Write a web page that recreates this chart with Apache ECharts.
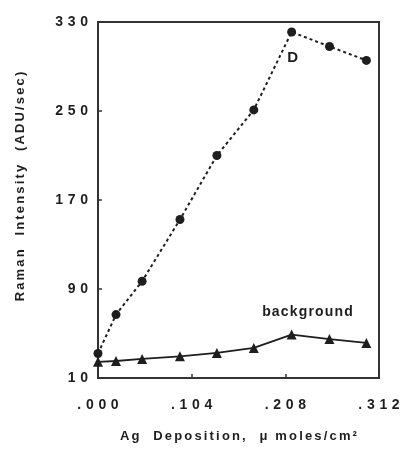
<!DOCTYPE html>
<html>
<head>
<meta charset="utf-8">
<script src="https://cdn.jsdelivr.net/npm/echarts@6/dist/echarts.min.js"></script>
<style>
  html, body { margin: 0; padding: 0; background: #fff; }
  #chart { width: 403px; height: 450px; }
</style>
</head>
<body>
<div id="chart"></div>
<script>
// Ag deposition (µmoles/cm²) and Raman intensity (ADU/sec)
const deposition = [0, 0.020, 0.049, 0.091, 0.132, 0.173, 0.215, 0.257, 0.298];
const intensityD = [32, 67, 97, 152.5, 210, 251, 321, 308, 295.5];
const intensityBackground = [24.5, 25.3, 27.1, 29.5, 32.5, 37, 49, 45, 41.5];
const xTicks = [0, 0.104, 0.208, 0.312];
const yTicks = [10, 90, 170, 250, 330];

const ink = '#1e1e1e';
const font = 'Liberation Sans, Arial, sans-serif';
const spaced = (s, gap) => s.split('').join(gap);

const pairs = (xs, ys) => xs.map((x, i) => [x, ys[i]]);

const dData = pairs(deposition, intensityD).map((p, i) =>
  i === 6 ? { value: p, label: { show: true, formatter: 'D', position: 'inside', offset: [1, 26],
    color: ink, fontFamily: font, fontWeight: 'bold', fontSize: 15 } } : p);
const bgData = pairs(deposition, intensityBackground).map((p, i) =>
  i === 7 ? { value: p, label: { show: true, formatter: spaced('background', '\u200A'), position: 'inside',
    offset: [-22, -27], color: ink, fontFamily: font, fontWeight: 'bold', fontSize: 14 } } : p);

const chart = echarts.init(document.getElementById('chart'), null, { renderer: 'canvas' });
chart.setOption({
  animation: false,
  backgroundColor: '#fff',
  grid: { left: 98, right: 24, top: 22, bottom: 72, show: true, borderColor: '#333', borderWidth: 2 },
  xAxis: {
    type: 'value', min: 0, max: 0.312,
    name: spaced('Ag  Deposition,  \u03BC moles/cm\u00B2', '\u2006'),
    nameLocation: 'middle', nameGap: 52,
    nameTextStyle: { color: ink, fontFamily: font, fontWeight: 'bold', fontSize: 13 },
    axisLine: { show: true, lineStyle: { color: '#333', width: 2 } },
    axisTick: { show: true, inside: true, length: 4, customValues: xTicks, lineStyle: { color: '#333', width: 1.5 } },
    axisLabel: {
      customValues: xTicks, margin: 20, color: ink, fontFamily: font, fontWeight: 'bold', fontSize: 14,
      formatter: v => spaced(v.toFixed(3).replace(/^0/, ''), '\u2004')
    },
    splitLine: { show: false }
  },
  yAxis: {
    type: 'value', min: 10, max: 330,
    name: spaced('Raman  Intensity  (ADU/sec)', '\u2006'),
    nameLocation: 'middle', nameGap: 71, nameRotate: 90,
    nameTextStyle: { color: ink, fontFamily: font, fontWeight: 'bold', fontSize: 13, padding: [0, 0, 0, 27] },
    axisLine: { show: true, lineStyle: { color: '#333', width: 2 } },
    axisTick: { show: true, inside: true, length: 4, customValues: yTicks, lineStyle: { color: '#333', width: 1.5 } },
    axisLabel: {
      customValues: yTicks, margin: 10, color: ink, fontFamily: font, fontWeight: 'bold', fontSize: 14,
      formatter: v => spaced(String(v), '\u2004')
    },
    splitLine: { show: false }
  },
  series: [
    {
      name: 'D', type: 'line', data: dData,
      symbol: 'circle', symbolSize: 9,
      itemStyle: { color: ink },
      lineStyle: { color: ink, width: 2, type: [3, 3] },
      z: 3
    },
    {
      name: 'background', type: 'line', data: bgData,
      symbol: 'triangle', symbolSize: 10,
      itemStyle: { color: ink },
      lineStyle: { color: ink, width: 1.8 },
      z: 2
    }
  ]
});
</script>
</body>
</html>
